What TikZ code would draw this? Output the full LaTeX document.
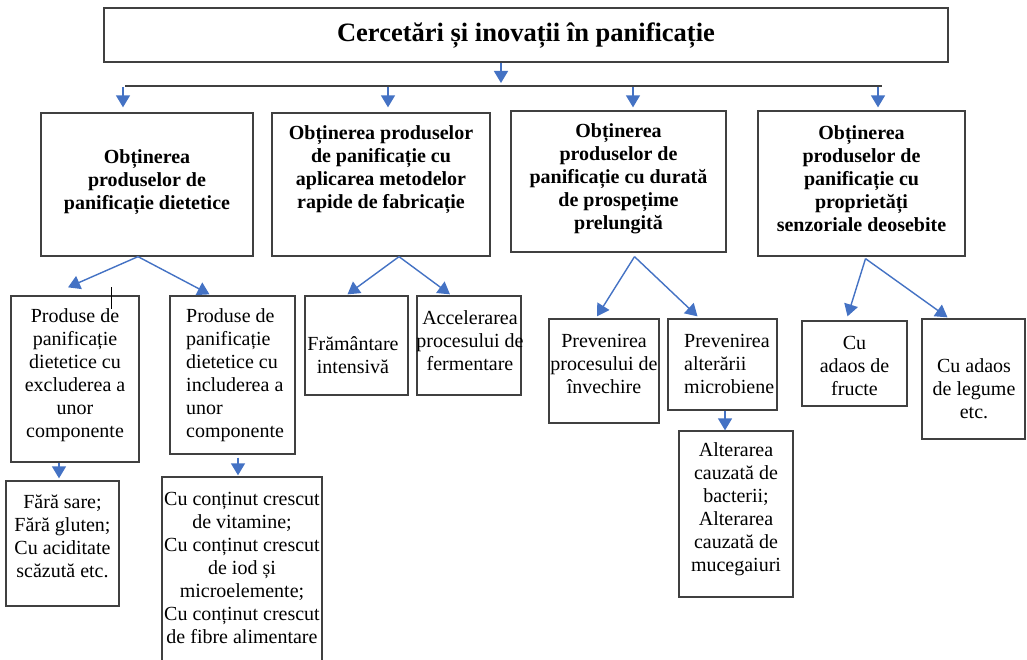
\documentclass[tikz,border=0pt]{standalone}
\usepackage{fontspec}
\setmainfont{Liberation Serif}
\usetikzlibrary{arrows.meta}
\definecolor{arrblue}{HTML}{4472C4}
\definecolor{boxgray}{HTML}{404040}
\begin{document}
\begin{tikzpicture}[x=1pt,y=-1pt,
  box/.style={draw=boxgray,line width=1.3pt,rectangle,inner sep=0pt},
  hd/.style={font=\fontsize{20}{23}\selectfont\bfseries,align=center,inner sep=0pt},
  txt/.style={font=\fontsize{20}{23}\selectfont,align=center,inner sep=0pt},
  arr/.style={draw=arrblue,line width=1.4pt,-{Triangle[width=14pt,length=12pt]}}]
\useasboundingbox (0,0) rectangle (1027,660);
\fill[white](0,0) rectangle (1027,660);
\clip (0,0) rectangle (1027,660);

\node[box,minimum width=844pt,minimum height=54pt] (title) at (526,35) {};
\node[font=\fontsize{26.5}{30}\selectfont\bfseries,inner sep=0pt] (title-t) at (526,36) {Cercetări și inovații în panificație};

\node[box,minimum width=212pt,minimum height=143pt] (diet) at (147,184.5) {};
\node[box,minimum width=218pt,minimum height=143pt] (rapid) at (381,184.5) {};
\node[box,minimum width=215pt,minimum height=141pt] (prosp) at (618.5,181.5) {};
\node[box,minimum width=207pt,minimum height=145pt] (senz) at (861.5,183.5) {};
\node[hd] (diet-t) at (147,182) {Obținerea\\produselor de\\panificație dietetice};
\node[hd] (rapid-t) at (381,170) {Obținerea produselor\\de panificație cu\\aplicarea metodelor\\rapide de fabricație};
\node[hd] (prosp-t) at (618.5,179) {Obținerea\\produselor de\\panificație cu durată\\de prospețime\\prelungită};
\node[hd] (senz-t) at (861.5,179) {Obținerea\\produselor de\\panificație cu\\proprietăți\\senzoriale deosebite};

\node[box,minimum width=128pt,minimum height=166pt] (excl) at (75,379) {};
\node[box,minimum width=125pt,minimum height=158pt] (incl) at (232.5,375) {};
\node[box,minimum width=103pt,minimum height=99pt] (fram) at (356.5,345.5) {};
\node[box,minimum width=104pt,minimum height=99pt] (accel) at (469,345.5) {};
\node[box,minimum width=110pt,minimum height=104pt] (inv) at (604,371) {};
\node[box,minimum width=109pt,minimum height=91pt] (micro) at (722.5,364.5) {};
\node[box,minimum width=105pt,minimum height=85pt] (fruct) at (854.5,363.5) {};
\node[box,minimum width=103pt,minimum height=120pt] (legum) at (973.5,379) {};
\node[txt] (excl-t) at (75,375.5) {Produse de\\panificație\\dietetice cu\\excluderea a\\unor\\componente};
\node[txt,align=left,anchor=west] (incl-t) at (186,375.5) {Produse de\\panificație\\dietetice cu\\includerea a\\unor\\componente};
\node[txt] (fram-t) at (353,355) {Frământare\\intensivă};
\node[txt] (accel-t) at (470,341) {Accelerarea\\procesului de\\fermentare};
\node[txt] (inv-t) at (604,364) {Prevenirea\\procesului de\\învechire};
\node[txt,align=left,anchor=west] (micro-t) at (684,364) {Prevenirea\\alterării\\microbiene};
\node[txt] (fruct-t) at (854.5,366) {Cu\\adaos de\\fructe};
\node[txt] (legum-t) at (974,389) {Cu adaos\\de legume\\etc.};

\node[box,minimum width=113pt,minimum height=125pt] (sare) at (62.5,543.5) {};
\node[box,minimum width=160pt,minimum height=223pt] (cont) at (242,588.5) {};
\node[box,minimum width=114pt,minimum height=166pt] (alter) at (736,514) {};
\node[txt] (sare-t) at (62.5,536.5) {Fără sare;\\Fără gluten;\\Cu aciditate\\scăzută etc.};
\node[txt] (cont-t) at (242,567.5) {Cu conținut crescut\\de vitamine;\\Cu conținut crescut\\de iod și\\microelemente;\\Cu conținut crescut\\de fibre alimentare};
\node[txt] (alter-t) at (736,509.5) {Alterarea\\cauzată de\\bacterii;\\Alterarea\\cauzată de\\mucegaiuri};

\coordinate (busL) at (125,86);
\coordinate (busR) at (882,86);
\coordinate (busT) at (501,83);
\coordinate (b1) at (123,87);
\coordinate (b2) at (388,87);
\coordinate (b3) at (633,87);
\coordinate (b4) at (878,87);
\draw[boxgray,line width=1.3pt](busL)--(busR);
\draw[arr]([xshift=-25pt]title.south)--(busT);
\draw[arr](b1)--([xshift=-24pt,yshift=5pt]diet.north);
\draw[arr](b2)--([xshift=7pt,yshift=5pt]rapid.north);
\draw[arr](b3)--([xshift=14.5pt,yshift=3pt]prosp.north);
\draw[arr](b4)--([xshift=16.5pt,yshift=3pt]senz.north);

\draw[arr]([xshift=-9pt]diet.south)--([xshift=-7pt,yshift=8pt]excl.north);
\draw[arr]([xshift=-9pt]diet.south)--([xshift=-23pt,yshift=1pt]incl.north);
\draw[arr]([xshift=18pt]rapid.south)--([xshift=-9pt,yshift=1pt]fram.north);
\draw[arr]([xshift=18pt]rapid.south)--([xshift=-19pt,yshift=1pt]accel.north);
\draw[arr]([xshift=16pt,yshift=-4pt]prosp.south)--([xshift=-7pt,yshift=2pt]inv.north);
\draw[arr]([xshift=16pt,yshift=-4pt]prosp.south)--([xshift=-25pt,yshift=2pt]micro.north);
\draw[arr]([xshift=4pt,yshift=-2pt]senz.south)--([xshift=-7pt,yshift=4pt]fruct.north);
\draw[arr]([xshift=4pt,yshift=-2pt]senz.south)--([xshift=-26pt,yshift=1pt]legum.north);

\draw[arr]([xshift=-16pt]excl.south)--([xshift=-3.5pt,yshift=2pt]sare.north);
\draw[arr]([xshift=5.5pt,yshift=-3pt]incl.south)--([xshift=-4pt,yshift=1pt]cont.north);
\draw[arr]([xshift=2.5pt]micro.south)--([xshift=-11pt]alter.north);

\draw[line width=1pt](111,287)--(111,309);
\end{tikzpicture}
\end{document}
